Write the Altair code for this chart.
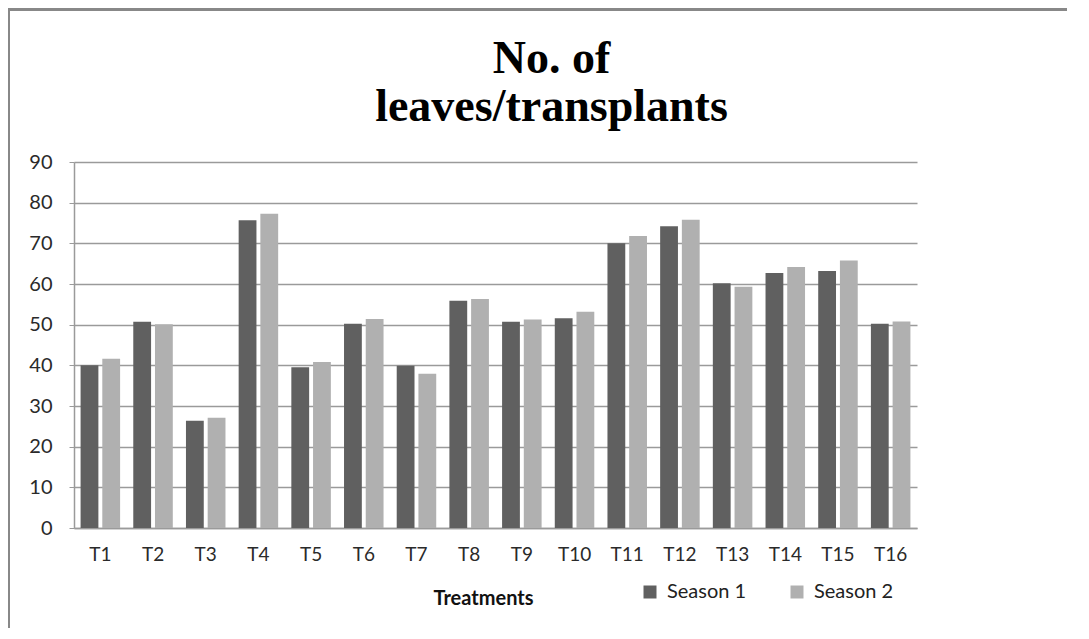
import altair as alt
import pandas as pd

treatments = ["T1", "T2", "T3", "T4", "T5", "T6", "T7", "T8",
              "T9", "T10", "T11", "T12", "T13", "T14", "T15", "T16"]
season1 = [40.0, 50.7, 26.4, 75.7, 39.5, 50.2, 39.9, 55.9,
           50.7, 51.6, 70.0, 74.2, 60.2, 62.7, 63.2, 50.2]
season2 = [41.6, 50.1, 27.1, 77.3, 40.8, 51.4, 37.9, 56.3,
           51.3, 53.2, 71.8, 75.8, 59.3, 64.2, 65.8, 50.8]
series = ["Season 1", "Season 2"]
colors = ["#606060", "#b0b0b0"]
y_ticks = [0, 10, 20, 30, 40, 50, 60, 70, 80, 90]

rows = []
for t, a, b in zip(treatments, season1, season2):
    rows.append({"Treatment": t, "Season": series[0], "Value": a})
    rows.append({"Treatment": t, "Season": series[1], "Value": b})
df = pd.DataFrame(rows)

FONT = "Lato"

bars = alt.Chart(df).mark_bar().encode(
    x=alt.X("Treatment:N", sort=treatments,
            scale=alt.Scale(paddingInner=0.25, paddingOuter=0.125),
            axis=alt.Axis(title="Treatments", labelAngle=0, ticks=False,
                          labelPadding=17, labelFontSize=19, labelColor="#2a2a2a",
                          labelFont=FONT, domainColor="#9a9a9a", domainWidth=1.5,
                          titleFont=FONT, titleFontSize=20, titleFontWeight="bold",
                          titleColor="#111111", titleX=409, titleY=70,
                          titleBaseline="middle", titleAnchor="middle")),
    xOffset=alt.XOffset("Season:N", sort=series,
                        scale=alt.Scale(paddingInner=0.18, paddingOuter=0)),
    y=alt.Y("Value:Q", scale=alt.Scale(domain=[0, 90], nice=False),
            axis=alt.Axis(title=None, values=y_ticks, tickSize=5,
                          tickColor="#9a9a9a", labelPadding=17,
                          labelFontSize=20, labelColor="#2a2a2a", labelFont=FONT,
                          gridColor="#9a9a9a", gridWidth=1.5,
                          domainColor="#9a9a9a", domainWidth=1.5)),
    color=alt.Color("Season:N", sort=series,
                    scale=alt.Scale(domain=series, range=colors),
                    legend=alt.Legend(title=None, orient="none", direction="horizontal",
                                      legendX=566, legendY=420,
                                      symbolType="square", symbolSize=169,
                                      symbolStrokeWidth=0, symbolOffset=0,
                                      labelFont=FONT, labelFontSize=20,
                                      labelColor="#222222", labelOffset=7,
                                      columnPadding=40)),
)

frame_top = alt.Chart(df).mark_rule(color="#888888", strokeWidth=2.5).encode(
    x=alt.value(-66), x2=alt.value(1020), y=alt.value(-153)
)
frame_left = alt.Chart(df).mark_rule(color="#888888", strokeWidth=2).encode(
    x=alt.value(-65), y=alt.value(-154), y2=alt.value(480)
)

chart = alt.layer(bars, frame_top, frame_left).properties(
    width=843, height=366,
    title=alt.TitleParams(["No. of", "leaves/transplants"], font="Liberation Serif",
                          fontSize=46, fontWeight="bold", color="#000000",
                          lineHeight=48, anchor="middle", dx=56, offset=0, dy=124),
    autosize=alt.AutoSizeParams(type="none"),
    padding={"left": 66, "top": 154, "right": 150, "bottom": 100},
).configure_view(stroke=None).configure_axis(grid=True).configure_axisX(grid=False)

chart.save("out.html", embed_options={"renderer": "svg", "actions": False})
